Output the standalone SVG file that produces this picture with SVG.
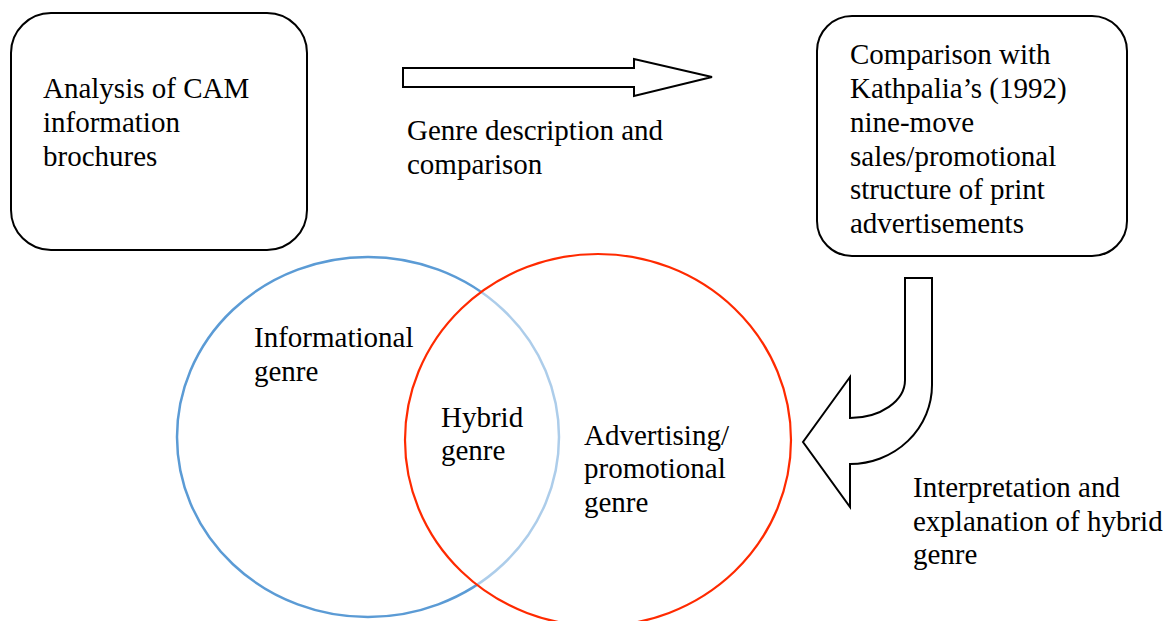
<svg xmlns="http://www.w3.org/2000/svg" width="1168" height="621" viewBox="0 0 1168 621">
<style>
.t{font-family:"Liberation Serif","Times New Roman",serif;font-size:29px;fill:#000}
.box{fill:#fff;stroke:#000;stroke-width:2}
.arr{fill:#fff;stroke:#000;stroke-width:2;stroke-linejoin:miter}
</style>
<rect width="1168" height="621" fill="#fff"/>
<g id="analysis">
<rect class="box" x="11" y="13" width="296" height="237" rx="40"/>
<text class="t" x="43" y="98">Analysis of CAM</text>
<text class="t" x="43" y="132">information</text>
<text class="t" x="43" y="165.5">brochures</text>
</g>
<g id="comparison">
<rect class="box" x="817" y="16" width="310" height="240" rx="35"/>
<text class="t" x="850" y="64">Comparison with</text>
<text class="t" x="850" y="98">Kathpalia’s (1992)</text>
<text class="t" x="850" y="131.5">nine-move</text>
<text class="t" x="850" y="165.5">sales/promotional</text>
<text class="t" x="850" y="199">structure of print</text>
<text class="t" x="850" y="233">advertisements</text>
</g>
<g id="informational">
<ellipse cx="368" cy="437" rx="191" ry="180" fill="none" stroke="#5B9BD5" stroke-width="2.5"/>
</g>
<g id="advertising">
<ellipse cx="598" cy="440" rx="193" ry="186" fill="#fff" fill-opacity="0.5" stroke="#FF2A00" stroke-width="2.2"/>
</g>
<g id="labels">
<text class="t" x="254" y="347">Informational</text>
<text class="t" x="254" y="381">genre</text>
<text class="t" x="441" y="426.5">Hybrid</text>
<text class="t" x="441" y="460">genre</text>
<text class="t" x="584" y="444.5">Advertising/</text>
<text class="t" x="584" y="478">promotional</text>
<text class="t" x="584" y="512">genre</text>
</g>
<g id="connectors">
<polygon class="arr" points="403,68 634,68 634,59 712,77 634,96 634,87 403,87"/>
<path class="arr" d="M905,278 L932,278 L932,385 A82,79 0 0 1 850,464 L850,507 L803,442 L850,377 L850,418 A55,38 0 0 0 905,380 Z"/>
<text class="t" x="407" y="140">Genre description and</text>
<text class="t" x="407" y="174">comparison</text>
<text class="t" x="913" y="497">Interpretation and</text>
<text class="t" x="913" y="531">explanation of hybrid</text>
<text class="t" x="913" y="564">genre</text>
</g>
</svg>
